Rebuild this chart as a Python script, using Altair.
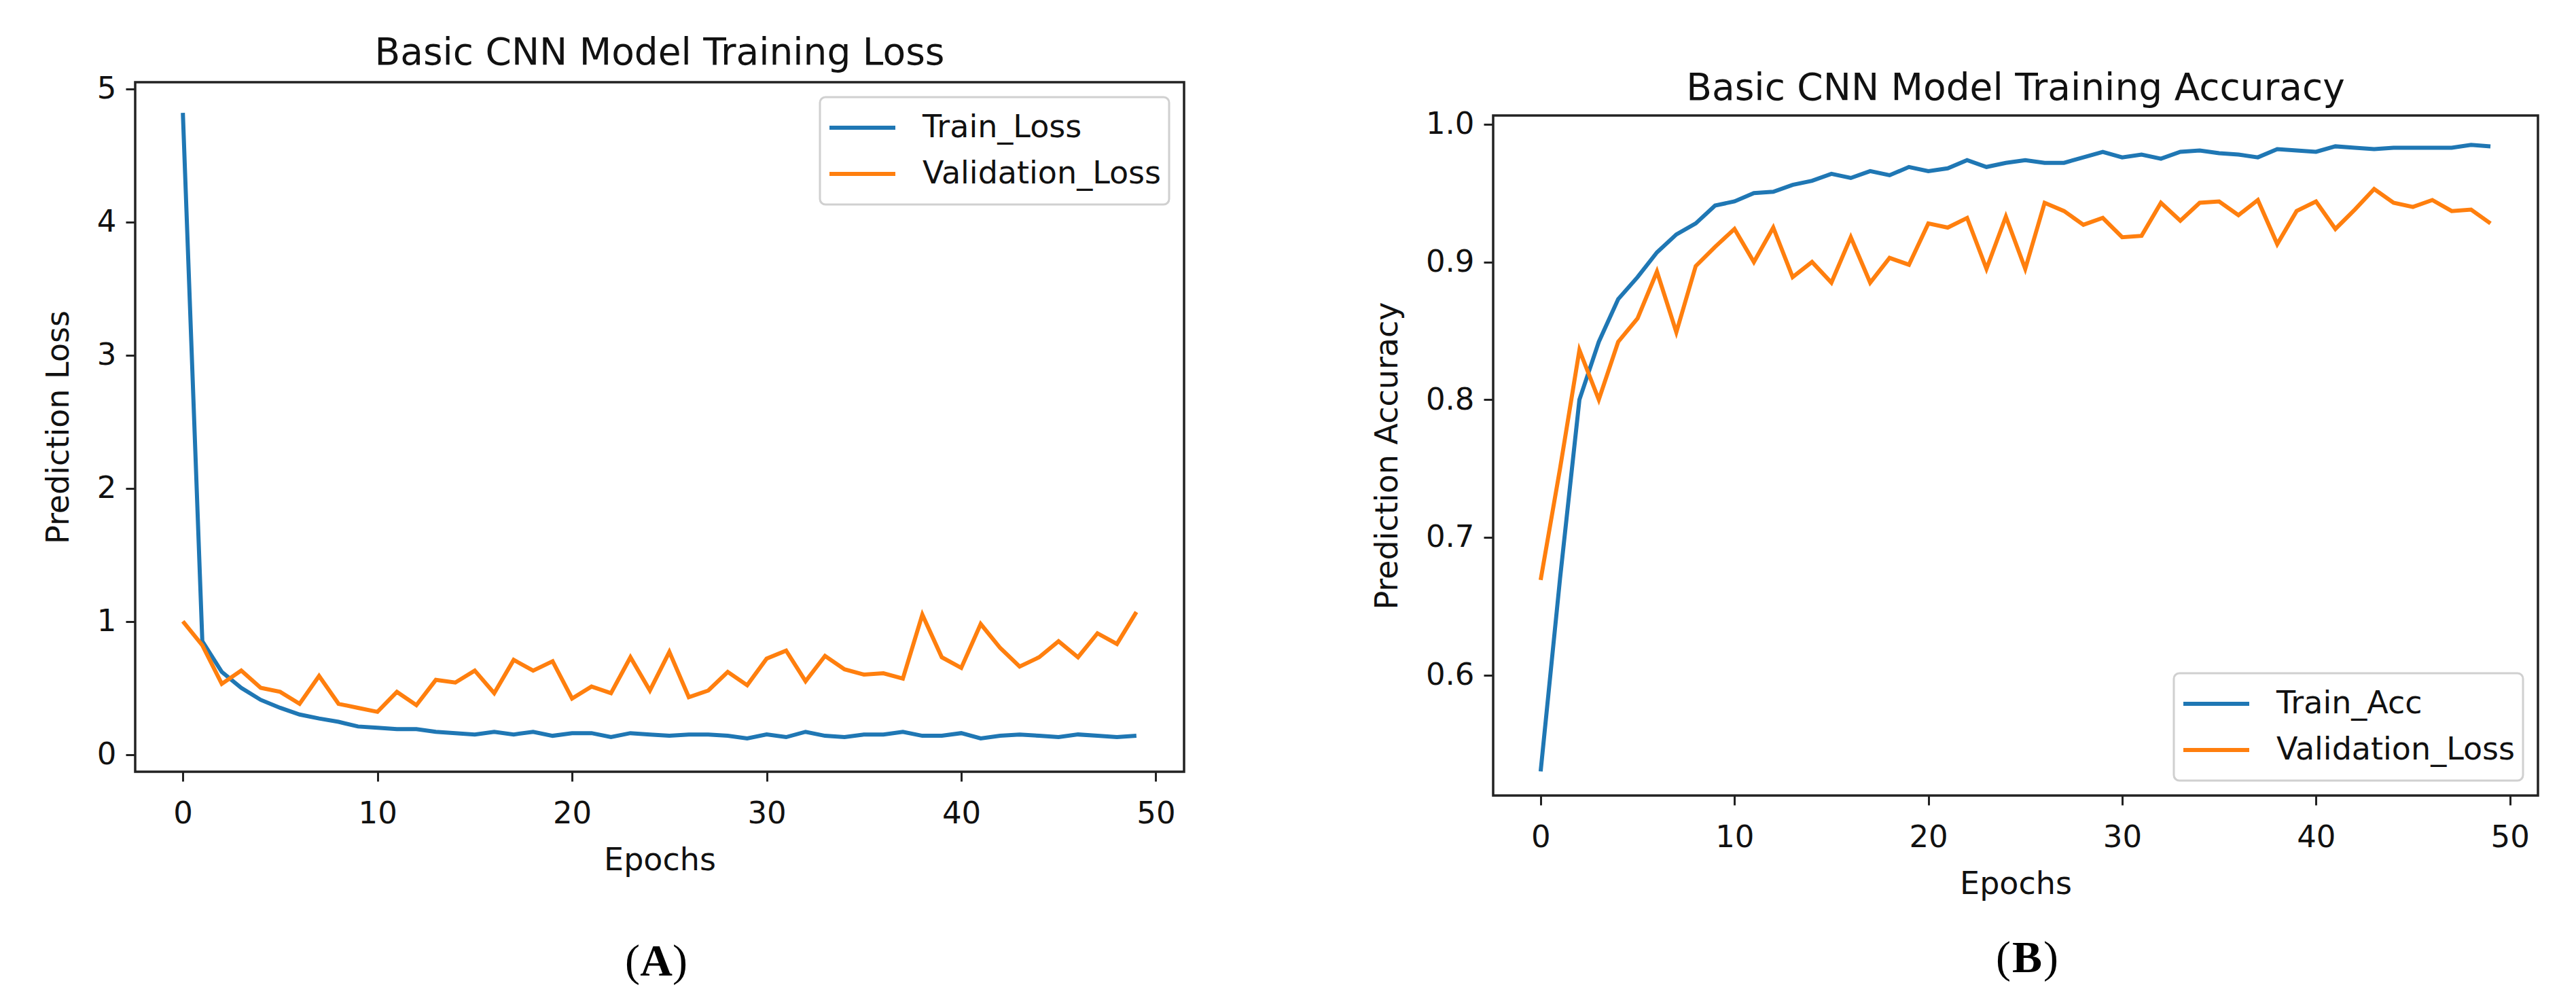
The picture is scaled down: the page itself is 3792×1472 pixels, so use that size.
import altair as alt
import pandas as pd

# ---------------- data ----------------
epochs = list(range(50))

train_loss = [4.82, 0.85, 0.62, 0.50, 0.41, 0.35, 0.30, 0.27, 0.245, 0.21,
              0.20, 0.19, 0.19, 0.17, 0.16, 0.15, 0.17, 0.15, 0.17, 0.14,
              0.16, 0.16, 0.13, 0.16, 0.15, 0.14, 0.15, 0.15, 0.14, 0.12,
              0.15, 0.13, 0.17, 0.14, 0.13, 0.15, 0.15, 0.17, 0.14, 0.14,
              0.16, 0.12, 0.14, 0.15, 0.14, 0.13, 0.15, 0.14, 0.13, 0.14]
val_loss = [1.00, 0.82, 0.53, 0.63, 0.50, 0.47, 0.38, 0.59, 0.38, 0.35,
            0.32, 0.47, 0.37, 0.56, 0.54, 0.63, 0.46, 0.71, 0.63, 0.70,
            0.42, 0.51, 0.46, 0.73, 0.48, 0.77, 0.43, 0.48, 0.62, 0.52,
            0.72, 0.78, 0.55, 0.74, 0.64, 0.60, 0.61, 0.57, 1.05, 0.73,
            0.65, 0.98, 0.80, 0.66, 0.73, 0.85, 0.73, 0.91, 0.83, 1.07]
train_acc = [0.530, 0.670, 0.800, 0.842, 0.873, 0.889, 0.907, 0.920, 0.928, 0.941,
             0.944, 0.950, 0.951, 0.956, 0.959, 0.964, 0.961, 0.966, 0.963, 0.969,
             0.966, 0.968, 0.974, 0.969, 0.972, 0.974, 0.972, 0.972, 0.976, 0.980,
             0.976, 0.978, 0.975, 0.980, 0.981, 0.979, 0.978, 0.976, 0.982, 0.981,
             0.980, 0.984, 0.983, 0.982, 0.983, 0.983, 0.983, 0.983, 0.985, 0.984]
val_acc = [0.669, 0.750, 0.836, 0.800, 0.842, 0.859, 0.893, 0.849, 0.897, 0.911,
           0.924, 0.900, 0.925, 0.889, 0.900, 0.885, 0.918, 0.885, 0.903, 0.898,
           0.928, 0.925, 0.932, 0.895, 0.933, 0.895, 0.943, 0.937, 0.927, 0.932,
           0.918, 0.919, 0.943, 0.930, 0.943, 0.944, 0.934, 0.945, 0.913, 0.937,
           0.944, 0.924, 0.938, 0.953, 0.943, 0.940, 0.945, 0.937, 0.938, 0.928]

x_ticks = [0, 10, 20, 30, 40, 50]
loss_ticks = [0, 1, 2, 3, 4, 5]
acc_ticks = [0.6, 0.7, 0.8, 0.9, 1.0]

names_a = ["Train_Loss", "Validation_Loss"]
names_b = ["Train_Acc", "Validation_Loss"]
titles = ["Basic CNN Model Training Loss", "Basic CNN Model Training Accuracy"]
y_titles = ["Prediction Loss", "Prediction Accuracy"]
captions = ["A", "B"]

COLORS = ["#1f77b4", "#ff7f0e"]
FONT = "DejaVu Sans"


def long_df(a, b, names):
    return pd.DataFrame({
        "epoch": epochs + epochs,
        "value": a + b,
        "series": [names[0]] * len(a) + [names[1]] * len(b),
    })


def caption_layers(letter, cx, cy):
    d = pd.DataFrame({"o": ["("], "l": [letter], "c": [")"]})
    base = alt.Chart(d)
    lp = base.mark_text(font="Liberation Serif", fontSize=66, align="right",
                        baseline="middle", color="black", dx=-24).encode(
        x=alt.value(cx), y=alt.value(cy), text="o:N")
    le = base.mark_text(font="Liberation Serif", fontSize=66, fontWeight="bold",
                        align="center", baseline="middle", color="black").encode(
        x=alt.value(cx), y=alt.value(cy), text="l:N")
    rp = base.mark_text(font="Liberation Serif", fontSize=66, align="left",
                        baseline="middle", color="black", dx=24).encode(
        x=alt.value(cx), y=alt.value(cy), text="c:N")
    return [lp, le, rp]


def panel(df, names, ydom, yvals, yfmt, ytitle, title, orient, w, h, cap, capx, capy):
    lines = alt.Chart(df).mark_line(strokeWidth=6, clip=True).encode(
        x=alt.X("epoch:Q",
                scale=alt.Scale(domain=[-2.45, 51.45], nice=False, zero=False),
                axis=alt.Axis(values=x_ticks, title="Epochs", format="d")),
        y=alt.Y("value:Q",
                scale=alt.Scale(domain=ydom, nice=False, zero=False),
                axis=alt.Axis(values=yvals, format=yfmt, title=ytitle)),
        color=alt.Color("series:N",
                        scale=alt.Scale(domain=names, range=COLORS),
                        sort=names,
                        legend=alt.Legend(title=None, orient=orient, offset=22)),
    )
    return alt.layer(lines, *caption_layers(cap, capx, capy)).properties(
        width=w, height=h,
        title=alt.TitleParams(text=title, fontSize=55, fontWeight="normal",
                              font=FONT, color="#111", offset=2))


def spacer(h):
    return alt.Chart(pd.DataFrame({"s": [0]})).mark_point(opacity=0).encode(
        x=alt.value(0), y=alt.value(0)
    ).properties(width=1, height=h, view=alt.ViewBackground(stroke="transparent"))


chart_a = panel(long_df(train_loss, val_loss, names_a), names_a, [-0.13, 5.05],
                loss_ticks, "d", y_titles[0], titles[0],
                "top-right", 1544, 1015, captions[0], 767, 1295)

chart_b = panel(long_df(train_acc, val_acc, names_b), names_b, [0.5125, 1.0064],
                acc_ticks, ".1f", y_titles[1], titles[1],
                "bottom-right", 1538, 1001, captions[1], 786, 1241)

col_a = alt.vconcat(spacer(1), chart_a, spacing=0).resolve_scale(
    color="independent").resolve_legend(color="independent")
col_b = alt.vconcat(spacer(55), chart_b, spacing=0).resolve_scale(
    color="independent").resolve_legend(color="independent")

chart = alt.hconcat(col_a, col_b, spacing=272).resolve_scale(
    color="independent"
).resolve_legend(
    color="independent"
).properties(
    padding={"left": 53, "top": 31, "right": 5, "bottom": 5},
    background="white",
).configure_view(
    stroke="#222", strokeWidth=3.5
).configure_axis(
    domain=False, grid=False, tickSize=14, tickWidth=3, tickColor="#222",
    labelFont=FONT, labelFontSize=45, labelColor="#111", labelPadding=14,
    titleFont=FONT, titleFontSize=46, titleFontWeight="normal", titleColor="#111",
    titlePadding=16,
).configure_axisX(
    labelPadding=25, titlePadding=24
).configure_axisY(
    labelPadding=14, titlePadding=32
).configure_legend(
    symbolType="stroke", symbolSize=9409, symbolStrokeWidth=6,
    labelFont=FONT, labelFontSize=46, labelColor="#111", labelOffset=37,
    labelLimit=800, padding=11, clipHeight=68, rowPadding=0,
    fillColor="rgba(255,255,255,0.85)", strokeColor="#d0d0d0", strokeWidth=3,
    cornerRadius=8,
)

chart.save("out.html", embed_options={"renderer": "svg", "actions": False})
